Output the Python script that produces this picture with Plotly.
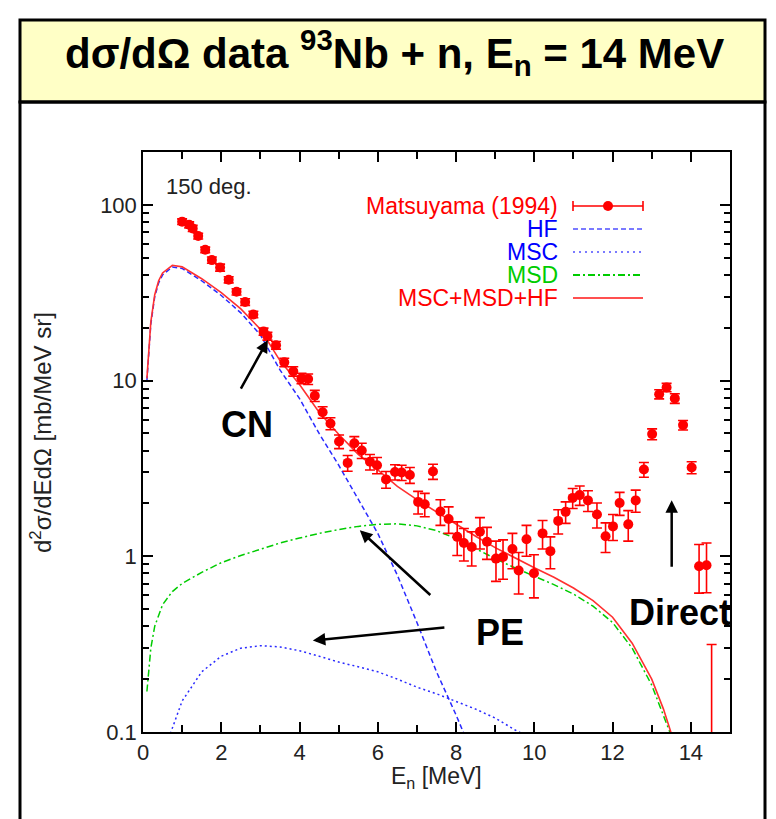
import plotly.graph_objects as go

# ---------------- data ----------------
# Matsuyama (1994) experimental points
exp_E = [1.00, 1.18, 1.27, 1.41, 1.59, 1.76, 1.97, 2.19, 2.39, 2.61, 2.82, 3.08, 3.18, 3.40,
         3.61, 3.84, 4.05, 4.22, 4.39, 4.59, 4.79, 5.01, 5.23, 5.40, 5.59, 5.80, 5.98, 6.21,
         6.44, 6.61, 6.82, 7.03, 7.20, 7.41, 7.60, 7.81, 8.03, 8.20, 8.40, 8.61, 8.79, 9.02,
         9.20, 9.44, 9.60, 9.80, 9.99, 10.21, 10.41, 10.61, 10.80, 10.98, 11.16, 11.37, 11.60,
         11.82, 12.01, 12.18, 12.40, 12.59, 12.80, 13.01, 13.19, 13.38, 13.59, 13.80, 14.02,
         14.21, 14.40, 14.53]
exp_y = [80.3, 77.0, 73.5, 66.5, 55.5, 48.5, 44.0, 37.5, 32.0, 28.0, 23.8, 19.0, 17.9, 15.9,
         12.7, 11.3, 10.3, 10.2, 8.2, 6.6, 5.7, 4.5, 3.4, 4.4, 4.0, 3.45, 3.3, 2.74,
         3.02, 3.0, 2.9, 2.04, 1.98, 3.04, 1.80, 1.63, 1.29, 1.19, 1.13, 1.38, 1.21, 0.97,
         0.99, 1.10, 0.83, 1.25, 0.80, 1.35, 1.07, 1.59, 1.79, 2.15, 2.23, 2.08, 1.73,
         1.30, 1.48, 2.01, 1.52, 2.08, 3.12, 4.96, 8.37, 9.14, 7.92, 5.58, 3.20,
         0.877, 0.89, 0.05]
exp_err_plus = [3, 3, 3, 2.5, 2, 2, 2, 1.5, 1.3, 1.2, 1.0, 0.9, 0.9, 0.8,
                0.7, 0.7, 0.7, 0.7, 0.6, 0.5, 0.45, 0.4, 0.35, 0.4, 0.4, 0.35, 0.35, 0.3,
                0.3, 0.3, 0.3, 0.3, 0.3, 0.3, 0.3, 0.28, 0.28, 0.25, 0.25, 0.28, 0.25, 0.25,
                0.25, 0.25, 0.22, 0.25, 0.22, 0.25, 0.22, 0.25, 0.25, 0.28, 0.28, 0.28, 0.28,
                0.25, 0.25, 0.3, 0.3, 0.3, 0.3, 0.35, 0.5, 0.5, 0.5, 0.35, 0.25,
                0.29, 0.3, 0.265]
exp_err_minus = [3, 3, 3, 2.5, 2, 2, 2, 1.5, 1.3, 1.2, 1.0, 0.9, 0.9, 0.8,
                 0.7, 0.7, 0.7, 0.7, 0.6, 0.5, 0.45, 0.4, 0.35, 0.4, 0.4, 0.35, 0.35, 0.3,
                 0.3, 0.3, 0.3, 0.3, 0.3, 0.3, 0.3, 0.28, 0.28, 0.25, 0.25, 0.28, 0.25, 0.25,
                 0.25, 0.25, 0.22, 0.25, 0.22, 0.25, 0.22, 0.25, 0.25, 0.28, 0.28, 0.28, 0.28,
                 0.25, 0.25, 0.3, 0.3, 0.3, 0.3, 0.35, 0.5, 0.5, 0.5, 0.35, 0.25,
                 0.26, 0.27, 0.0]

# model curves
hf_E = [0.1, 0.2, 0.3, 0.4, 0.5, 0.75, 1.0, 1.5, 2.0, 2.5, 3.0, 3.5, 4.0, 4.5, 5.0, 5.5,
        6.0, 6.5, 7.0, 7.5, 8.0, 8.5]
hf_y = [10.0, 21.0, 30.0, 36.0, 40.0, 44.3, 43.5, 37.0, 30.5, 24.3, 18.2, 11.5, 7.9, 5.0,
        3.3, 2.1, 1.35, 0.78, 0.42, 0.22, 0.125, 0.068]

msc_E = [0.7, 1.0, 1.5, 2.0, 2.5, 3.0, 3.5, 4.0, 4.5, 5.0, 5.5, 6.0, 6.5, 7.0, 7.5, 8.0,
         8.5, 9.0, 9.5, 10.0]
msc_y = [0.098, 0.15, 0.22, 0.27, 0.30, 0.31, 0.305, 0.29, 0.27, 0.25, 0.235, 0.22, 0.20,
         0.18, 0.165, 0.15, 0.135, 0.12, 0.103, 0.09]

msd_E = [0.1, 0.2, 0.3, 0.5, 0.75, 1.0, 1.5, 2.0, 2.5, 3.0, 3.5, 4.0, 4.5, 5.0, 5.5, 6.0,
         6.5, 7.0, 7.5, 8.0, 8.5, 9.0, 9.5, 10.0, 10.5, 11.0, 11.5, 12.0, 12.5, 13.0, 13.3, 13.5]
msd_y = [0.17, 0.30, 0.40, 0.53, 0.63, 0.70, 0.81, 0.92, 1.01, 1.10, 1.19, 1.27, 1.35, 1.42,
         1.48, 1.52, 1.53, 1.49, 1.40, 1.26, 1.10, 0.97, 0.86, 0.77, 0.69, 0.61, 0.52, 0.42,
         0.30, 0.185, 0.125, 0.095]

sum_E = [0.1, 0.2, 0.3, 0.4, 0.5, 0.75, 1.0, 1.5, 2.0, 2.5, 3.0, 3.5, 4.0, 4.5, 5.0, 5.5,
         6.0, 6.5, 7.0, 7.5, 8.0, 8.5, 9.0, 9.5, 10.0, 10.5, 11.0, 11.5, 12.0, 12.5, 13.0,
         13.3, 13.5]
sum_y = [10.3, 21.6, 30.8, 37.0, 41.0, 45.3, 44.4, 38.0, 31.7, 25.6, 19.6, 13.0, 9.5, 6.6,
         4.95, 3.8, 3.1, 2.5, 2.1, 1.79, 1.52, 1.3, 1.12, 0.98, 0.86, 0.76, 0.66, 0.56, 0.45,
         0.32, 0.20, 0.135, 0.098]

x_ticks = [0, 2, 4, 6, 8, 10, 12, 14]
y_ticks = [0.1, 1, 10, 100]
y_ticktext = ["0.1", "1", "10", "100"]
y_minor = [0.2, 0.3, 0.4, 0.5, 0.6, 0.7, 0.8, 0.9, 2, 3, 4, 5, 6, 7, 8, 9,
           20, 30, 40, 50, 60, 70, 80, 90, 200]

legend_labels = ["Matsuyama (1994)", "HF", "MSC", "MSD", "MSC+MSD+HF"]

# ---------------- styles ----------------
RED = "#ff0000"
BLUE = "#2a2aff"
GREEN = "#00cc00"
FONT = "Liberation Sans, Arial, sans-serif"

fig = go.Figure()

fig.add_trace(go.Scatter(x=hf_E, y=hf_y, mode="lines",
                         line=dict(color=BLUE, width=1.5, dash="5px,3px"), showlegend=False))
fig.add_trace(go.Scatter(x=msc_E, y=msc_y, mode="lines",
                         line=dict(color=BLUE, width=1.5, dash="2px,3px"), showlegend=False))
fig.add_trace(go.Scatter(x=msd_E, y=msd_y, mode="lines",
                         line=dict(color=GREEN, width=1.5, dash="7px,3px,2px,3px"), showlegend=False))
fig.add_trace(go.Scatter(x=sum_E, y=sum_y, mode="lines",
                         line=dict(color="#ff3030", width=1.6), showlegend=False))
fig.add_trace(go.Scatter(x=exp_E, y=exp_y, mode="markers",
                         marker=dict(color=RED, size=10, symbol="circle"),
                         error_y=dict(type="data", array=exp_err_plus, arrayminus=exp_err_minus,
                                      color=RED, thickness=1.6, width=5, symmetric=False),
                         showlegend=False))

# ---------------- layout ----------------
W, H = 776, 819
L, R, T, B = 143, 46, 152, 87
PW, PH = W - L - R, H - T - B


def px(xp):
    return (xp - L) / PW


def py(yp):
    return (H - B - yp) / PH


shapes = []
# yellow title box
shapes.append(dict(type="rect", xref="paper", yref="paper", x0=px(20), x1=px(765),
                   y0=py(102), y1=py(20), fillcolor="#ffffc6",
                   line=dict(color="black", width=3), layer="below"))
# outer content frame
shapes.append(dict(type="rect", xref="paper", yref="paper", x0=px(20), x1=px(765),
                   y0=py(840), y1=py(102), fillcolor="rgba(0,0,0,0)",
                   line=dict(color="black", width=3), layer="below"))

# custom legend (text on the left, key on the right)
leg_rows = [206, 229, 252, 275, 298]
leg_colors = [RED, "#0000ff", "#0000ff", GREEN, RED]
key_styles = [None, ("#7a7aff", "5px,3px"), ("#7a7aff", "2px,4px"),
              (GREEN, "7px,3px,2px,3px"), ("#ff5050", "solid")]
annotations = []
for i, lab in enumerate(legend_labels):
    annotations.append(dict(text=lab, xref="paper", yref="paper", x=px(560), y=py(leg_rows[i]),
                            xanchor="right", yanchor="middle", showarrow=False,
                            font=dict(family=FONT, size=23, color=leg_colors[i])))
    if key_styles[i] is None:
        shapes.append(dict(type="line", xref="paper", yref="paper", x0=px(573), x1=px(643),
                           y0=py(leg_rows[i]), y1=py(leg_rows[i]), line=dict(color=RED, width=1.6)))
        for xe in (573, 643):
            shapes.append(dict(type="line", xref="paper", yref="paper", x0=px(xe), x1=px(xe),
                               y0=py(leg_rows[i] - 5), y1=py(leg_rows[i] + 5),
                               line=dict(color=RED, width=1.6)))
        shapes.append(dict(type="circle", xref="paper", yref="paper", x0=px(603), x1=px(613),
                           y0=py(leg_rows[i] + 5), y1=py(leg_rows[i] - 5),
                           fillcolor=RED, line=dict(color=RED, width=0)))
    else:
        c, d = key_styles[i]
        shapes.append(dict(type="line", xref="paper", yref="paper", x0=px(573), x1=px(643),
                           y0=py(leg_rows[i]), y1=py(leg_rows[i]),
                           line=dict(color=c, width=2, dash=d)))

# title
annotations.append(dict(
    text="<b>dσ/dΩ data <sup>93</sup>Nb + n, E<sub>n</sub> = 14 MeV</b>",
    xref="paper", yref="paper", x=px(394), y=py(52), xanchor="center", yanchor="middle",
    showarrow=False, font=dict(family=FONT, size=42, color="black")))

# angle label
annotations.append(dict(text="150 deg.", xref="paper", yref="paper", x=px(164), y=py(186),
                        xanchor="left", yanchor="middle", showarrow=False,
                        font=dict(family=FONT, size=22, color="#222222")))

# axis titles
annotations.append(dict(text="d<sup>2</sup>σ/dEdΩ [mb/MeV sr]", xref="paper", yref="paper",
                        x=px(41), y=py(433), xanchor="center", yanchor="middle", textangle=-90,
                        showarrow=False, font=dict(family=FONT, size=24, color="#222222")))
annotations.append(dict(text="E<sub>n</sub> [MeV]", xref="paper", yref="paper",
                        x=px(437), y=py(777), xanchor="center", yanchor="middle",
                        showarrow=False, font=dict(family=FONT, size=23, color="#222222")))

# arrows (x in MeV, y in log10 units)
arrows = [((3.19, 1.231), (2.48, 0.946)),
          ((5.54, 0.148), (7.38, -0.228)),
          ((4.34, -0.479), (7.74, -0.405)),
          ((13.51, 0.319), (13.51, -0.068))]
for (hx, hy), (tx, ty) in arrows:
    annotations.append(dict(text="", x=hx, y=hy, ax=tx, ay=ty, xref="x", yref="y",
                            axref="x", ayref="y", showarrow=True, arrowhead=2, arrowsize=1,
                            arrowwidth=2.5, arrowcolor="black"))

for txt, cx, cy in [("CN", 247, 424), ("PE", 500, 632), ("Direct", 680, 612)]:
    annotations.append(dict(text="<b>%s</b>" % txt, xref="paper", yref="paper",
                            x=px(cx), y=py(cy), xanchor="center", yanchor="middle",
                            showarrow=False, font=dict(family=FONT, size=36, color="black")))

fig.update_layout(
    width=W, height=H, margin=dict(l=L, r=R, t=T, b=B),
    paper_bgcolor="white", plot_bgcolor="white",
    shapes=shapes, annotations=annotations, showlegend=False,
    font=dict(family=FONT, size=22, color="#222222"),
)

fig.update_xaxes(range=[0, 15], tickvals=x_ticks, ticks="inside", ticklen=10, tickwidth=1.5,
                 tickcolor="black", showline=True, linecolor="black", linewidth=1.5,
                 mirror="allticks", showgrid=False, zeroline=False,
                 tickfont=dict(family=FONT, size=22, color="#222222"),
                 minor=dict(dtick=1, ticks="inside", ticklen=7, tickwidth=1.5, tickcolor="black",
                            showgrid=False))
fig.update_yaxes(type="log", range=[-1, 2.301], tickvals=y_ticks, ticktext=y_ticktext,
                 ticks="inside", ticklen=10, tickwidth=1.5, tickcolor="black",
                 showline=True, linecolor="black", linewidth=1.5, mirror="allticks",
                 showgrid=False, zeroline=False,
                 tickfont=dict(family=FONT, size=22, color="#222222"),
                 minor=dict(tickvals=y_minor, ticks="inside", ticklen=6, tickwidth=1.5,
                            tickcolor="black", showgrid=False))

fig.write_html("out.html")
